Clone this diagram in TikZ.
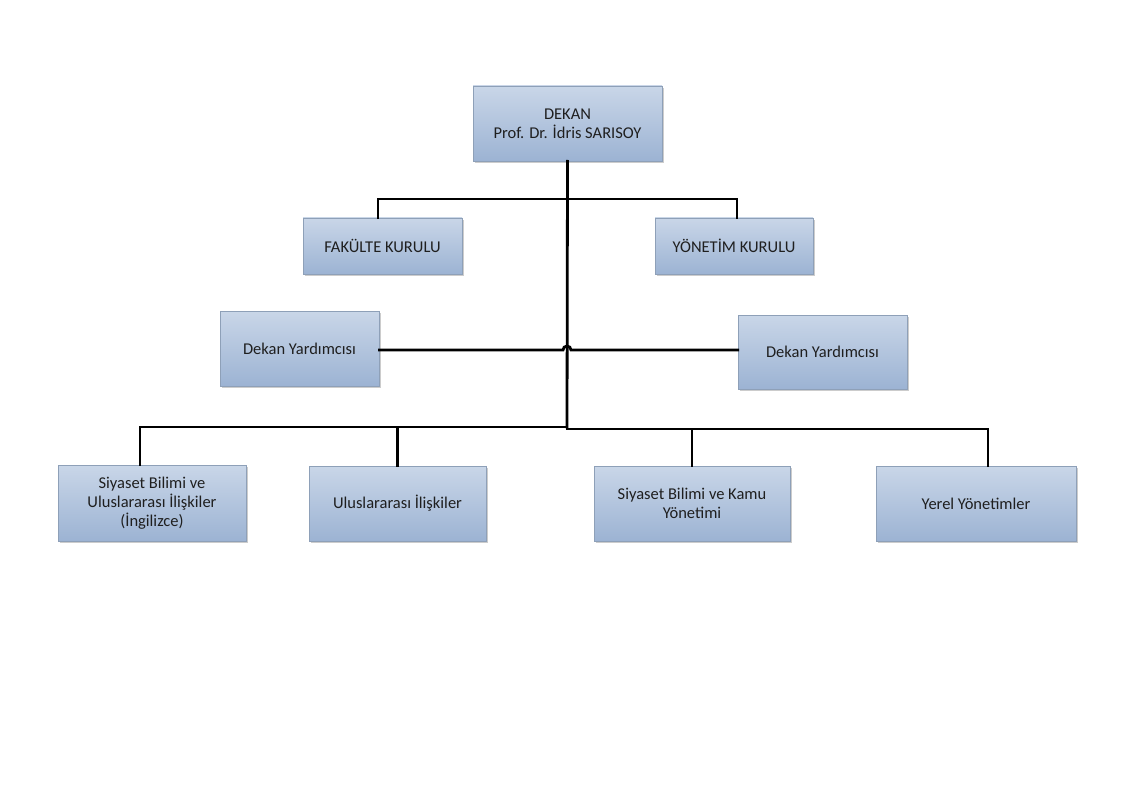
\documentclass[tikz,border=0pt]{standalone}
\usepackage{fontspec}
\setmainfont{Carlito}
\usetikzlibrary{shadows,calc}
\definecolor{boxtop}{HTML}{C9D6E8}
\definecolor{boxbot}{HTML}{9CB3D3}
\definecolor{boxline}{HTML}{8EA0B8}
\tikzset{
  orgbox/.style={draw=boxline, line width=0.8pt, top color=boxtop, bottom color=boxbot,
    align=center, font=\fontsize{16.5}{19}\selectfont, text=black!88, inner sep=0pt,
    drop shadow={shadow xshift=2pt, shadow yshift=-2pt, fill=black!40, opacity=0.5}},
  conn/.style={line width=2.8pt, line cap=rect, line join=miter, black}
}
\begin{document}
\begin{tikzpicture}[x=1pt,y=-1pt]
\useasboundingbox (0,0) rectangle (1123,794);
% boxes (centers from pixel extents)
\node[orgbox, minimum width=189pt, minimum height=75pt] (dekan) at (567.5,123.5) {DEKAN\\Prof. Dr. İdris SARISOY};
\node[orgbox, minimum width=159pt, minimum height=56pt] (fak) at (382.5,246) {FAKÜLTE KURULU};
\node[orgbox, minimum width=158pt, minimum height=56pt] (yon) at (734,246) {YÖNETİM KURULU};
\node[orgbox, minimum width=159pt, minimum height=75pt] (dyl) at (299.5,348.5) {Dekan Yardımcısı};
\node[orgbox, minimum width=169pt, minimum height=74pt] (dyr) at (822.5,352) {Dekan Yardımcısı};
\node[orgbox, minimum width=188pt, minimum height=76pt] (b1) at (152,503) {Siyaset Bilimi ve\\Uluslararası İlişkiler\\(İngilizce)};
\node[orgbox, minimum width=177pt, minimum height=75pt] (b2) at (397.5,503.5) {Uluslararası İlişkiler};
\node[orgbox, minimum width=196pt, minimum height=75pt] (b3) at (692,503.5) {Siyaset Bilimi ve Kamu\\Yönetimi};
\node[orgbox, minimum width=200pt, minimum height=75pt] (b4) at (976,503.5) {Yerel Yönetimler};
% junction coordinates
\coordinate (jtop) at (567,199);
\coordinate (jmid) at (567,350);
\coordinate (jbot) at (567,427);
\coordinate (jbr) at (567,429);
\coordinate (tl) at (378,199);
\coordinate (tr) at (737,199);
\coordinate (d1) at (140,427);
\coordinate (d4) at (988,429);
% connectors
\draw[conn] (dekan.south) -- (jbot);
\draw[conn] (tl |- fak.north) -- (tl) -- (tr) -- (tr |- yon.north);
\draw[conn] (dyl.east |- jmid) -- ($(jmid)+(-4,0)$) arc[start angle=180, end angle=360, radius=4] -- (dyr.west |- jmid);
\draw[conn] (d1 |- b1.north) -- (d1) -- (jbot);
\draw[conn] (b2.north) -- (b2.north |- jbot);
\draw[conn] (jbr) -- (d4) -- (d4 |- b4.north);
\draw[conn] (b3.north) -- (b3.north |- jbr);
\end{tikzpicture}
\end{document}
